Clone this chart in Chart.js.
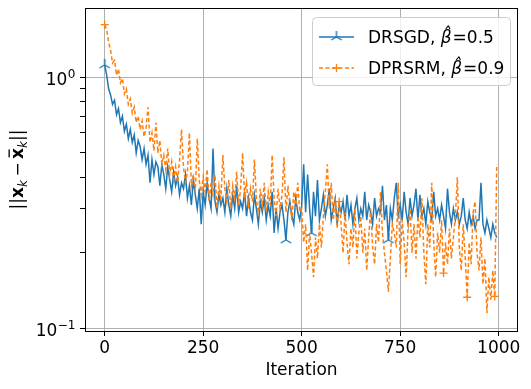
<!DOCTYPE html>
<html>
<head>
<meta charset="utf-8">
<script src="https://cdn.jsdelivr.net/npm/chart.js@4.4.0/dist/chart.umd.min.js"></script>
<style>
  html, body { margin: 0; padding: 0; background: #fff; }
  #wrap { width: 531px; height: 389px; }
</style>
</head>
<body>
<div id="wrap"><canvas id="chart" width="531" height="389"></canvas></div>
<script>
const STEP = 5;

const drsgd = [
    1.12, 1.02, 0.90, 0.85, 0.78, 0.81, 0.71, 0.75, 0.66, 0.70,
    0.61, 0.65, 0.57, 0.62, 0.55, 0.59, 0.50, 0.56, 0.53, 0.47,
    0.52, 0.45, 0.49, 0.38, 0.47, 0.41, 0.46, 0.44, 0.37, 0.45,
    0.41, 0.36, 0.44, 0.39, 0.35, 0.42, 0.37, 0.40, 0.34, 0.38,
    0.36, 0.41, 0.33, 0.37, 0.31, 0.39, 0.34, 0.30, 0.36, 0.26,
    0.35, 0.31, 0.38, 0.33, 0.30, 0.52, 0.32, 0.29, 0.34, 0.31,
    0.33, 0.29, 0.36, 0.31, 0.28, 0.34, 0.30, 0.37, 0.29, 0.32,
    0.30, 0.35, 0.28, 0.33, 0.29, 0.27, 0.34, 0.30, 0.26, 0.32,
    0.29, 0.33, 0.27, 0.31, 0.28, 0.35, 0.24, 0.30, 0.25, 0.29,
    0.31, 0.27, 0.225, 0.29, 0.32, 0.28, 0.26, 0.33, 0.29, 0.27,
    0.31, 0.45, 0.29, 0.41, 0.30, 0.24, 0.35, 0.28, 0.39, 0.27,
    0.30, 0.34, 0.28, 0.31, 0.36, 0.27, 0.30, 0.33, 0.26, 0.31,
    0.29, 0.32, 0.27, 0.34, 0.28, 0.31, 0.26, 0.30, 0.33, 0.27,
    0.30, 0.28, 0.35, 0.27, 0.31, 0.29, 0.26, 0.33, 0.28, 0.30,
    0.29, 0.37, 0.27, 0.31, 0.225, 0.30, 0.27, 0.33, 0.38, 0.28,
    0.31, 0.27, 0.35, 0.29, 0.26, 0.33, 0.28, 0.31, 0.36, 0.27,
    0.34, 0.28, 0.30, 0.26, 0.32, 0.29, 0.27, 0.35, 0.28, 0.30,
    0.27, 0.31, 0.28, 0.25, 0.36, 0.29, 0.26, 0.30, 0.27, 0.29,
    0.26, 0.28, 0.33, 0.27, 0.25, 0.29, 0.26, 0.28, 0.25, 0.27,
    0.27, 0.38, 0.26, 0.24, 0.27, 0.25, 0.23, 0.26, 0.24, 0.23
];

const dprsrm = [
    1.62, 1.55, 1.38, 1.28, 1.14, 1.17, 1.02, 1.08, 0.95, 0.99,
    0.86, 0.90, 0.78, 0.82, 0.72, 0.76, 0.66, 0.70, 0.62, 0.67,
    0.58, 0.63, 0.76, 0.55, 0.60, 0.51, 0.66, 0.50, 0.56, 0.45,
    0.49, 0.43, 0.52, 0.41, 0.46, 0.39, 0.44, 0.38, 0.47, 0.62,
    0.44, 0.38, 0.42, 0.60, 0.37, 0.41, 0.35, 0.57, 0.39, 0.34,
    0.40, 0.35, 0.43, 0.32, 0.38, 0.34, 0.41, 0.30, 0.37, 0.33,
    0.49, 0.36, 0.32, 0.39, 0.30, 0.37, 0.33, 0.42, 0.31, 0.36,
    0.50, 0.34, 0.38, 0.30, 0.36, 0.32, 0.47, 0.33, 0.28, 0.36,
    0.31, 0.38, 0.29, 0.35, 0.31, 0.49, 0.33, 0.28, 0.36, 0.30,
    0.34, 0.48, 0.29, 0.37, 0.31, 0.27, 0.35, 0.30, 0.38, 0.29,
    0.30, 0.22, 0.26, 0.17, 0.24, 0.20, 0.16, 0.23, 0.19, 0.26,
    0.21, 0.28, 0.35, 0.45, 0.30, 0.38, 0.27, 0.33, 0.25, 0.32,
    0.26, 0.20, 0.29, 0.22, 0.18, 0.25, 0.21, 0.30, 0.19, 0.24,
    0.28, 0.20, 0.25, 0.17, 0.23, 0.30, 0.21, 0.18, 0.26, 0.22,
    0.35, 0.24, 0.20, 0.17, 0.14, 0.19, 0.26, 0.24, 0.21, 0.38,
    0.18, 0.27, 0.22, 0.16, 0.25, 0.30, 0.20, 0.26, 0.19, 0.28,
    0.23, 0.33, 0.20, 0.15, 0.26, 0.21, 0.38, 0.22, 0.16, 0.24,
    0.20, 0.27, 0.166, 0.22, 0.18, 0.25, 0.19, 0.23, 0.28, 0.40,
    0.21, 0.17, 0.26, 0.19, 0.133, 0.22, 0.18, 0.29, 0.32, 0.20,
    0.17, 0.23, 0.15, 0.19, 0.115, 0.16, 0.13, 0.17, 0.134, 0.45
];

// Iterations where a marker is shown
const drsgdMarks = [0, 460, 525, 720];
const dprsrmMarks = [0, 595, 860, 920, 990];

const xTicks = [0, 250, 500, 750, 1000];
const yMajor = [0.1, 1];
const yMinor = [0.2, 0.3, 0.4, 0.5, 0.6, 0.7, 0.8, 0.9];

const BLUE = '#1f77b4';
const ORANGE = '#ff7f0e';
const FONT = 'DejaVu Sans';

// Tri-up marker ("2" in matplotlib) as a small canvas
function makeTri(color) {
    const c = document.createElement('canvas');
    c.width = 16; c.height = 16;
    const g = c.getContext('2d');
    g.strokeStyle = color;
    g.lineWidth = 1.4;
    const r = 6;
    g.beginPath();
    g.moveTo(8, 8); g.lineTo(8, 8 - r);
    g.moveTo(8, 8); g.lineTo(8 - r * 0.866, 8 + r * 0.5);
    g.moveTo(8, 8); g.lineTo(8 + r * 0.866, 8 + r * 0.5);
    g.stroke();
    return c;
}
const triBlue = makeTri(BLUE);

function toPoints(values) {
    return values.map((v, i) => ({ x: i * STEP, y: v }));
}

// Axes frame, y tick labels, y title, legend
const decorPlugin = {
    id: 'decor',
    afterDraw(chart) {
        const ctx = chart.ctx;
        const a = chart.chartArea;
        const ys = chart.scales.y;

        ctx.save();
        ctx.strokeStyle = '#000';
        ctx.lineWidth = 1;
        ctx.strokeRect(Math.round(a.left) + 0.5, Math.round(a.top) + 0.5,
            Math.round(a.right - a.left) - 1, Math.round(a.bottom - a.top));

        // y tick labels 10^0, 10^-1
        ctx.fillStyle = '#000';
        ctx.textBaseline = 'alphabetic';
        ctx.textAlign = 'left';
        [[1, '0'], [0.1, '\u22121']].forEach(([v, sup]) => {
            const py = ys.getPixelForValue(v);
            ctx.font = '17px ' + FONT;
            const wBase = ctx.measureText('10').width;
            ctx.font = '12px ' + FONT;
            const wSup = ctx.measureText(sup).width;
            const right = a.left - 10;
            const x0 = right - wBase - wSup;
            ctx.font = '17px ' + FONT;
            ctx.fillText('10', x0, py + 7.5);
            ctx.font = '12px ' + FONT;
            ctx.fillText(sup, x0 + wBase + 0.5, py + 0.5);
        });

        // y axis title ||x_k - x̄_k||
        const parts = [
            { t: '||', f: '17px ' + FONT, dy: 0 },
            { t: 'x', f: 'bold 17px ' + FONT, dy: 0 },
            { t: 'k', f: 'italic 12px ' + FONT, dy: 4 },
            { t: '\u2212', f: '17px ' + FONT, dy: 0, padL: 3.5, padR: 3.5 },
            { t: 'x', f: 'bold 17px ' + FONT, dy: 0, bar: true },
            { t: 'k', f: 'italic 12px ' + FONT, dy: 4 },
            { t: '||', f: '17px ' + FONT, dy: 0 }
        ];
        let total = 0;
        parts.forEach(p => {
            ctx.font = p.f;
            p.w = ctx.measureText(p.t).width;
            total += p.w + (p.padL || 0) + (p.padR || 0);
        });
        ctx.translate(23, (a.top + a.bottom) / 2);
        ctx.rotate(-Math.PI / 2);
        let cx = -total / 2;
        parts.forEach(p => {
            cx += p.padL || 0;
            ctx.font = p.f;
            ctx.fillText(p.t, cx, p.dy);
            if (p.bar) {
                ctx.fillRect(cx + 1.5, -14.5, p.w - 3, 1.3);
            }
            cx += p.w + (p.padR || 0);
        });
        ctx.restore();

        // legend
        ctx.save();
        const lx = 312.5, ly = 17.5, lw = 198, lh = 68, rr = 4;
        ctx.beginPath();
        ctx.moveTo(lx + rr, ly);
        ctx.arcTo(lx + lw, ly, lx + lw, ly + lh, rr);
        ctx.arcTo(lx + lw, ly + lh, lx, ly + lh, rr);
        ctx.arcTo(lx, ly + lh, lx, ly, rr);
        ctx.arcTo(lx, ly, lx + lw, ly, rr);
        ctx.closePath();
        ctx.fillStyle = 'rgba(255,255,255,0.8)';
        ctx.fill();
        ctx.strokeStyle = '#cccccc';
        ctx.lineWidth = 1;
        ctx.stroke();

        const entries = [
            { name: 'DRSGD, ', val: '=0.5', color: BLUE, dash: [], y: 37 },
            { name: 'DPRSRM, ', val: '=0.9', color: ORANGE, dash: [4, 2.5], y: 68 }
        ];
        entries.forEach((e, k) => {
            ctx.strokeStyle = e.color;
            ctx.lineWidth = 1.5;
            ctx.setLineDash(e.dash);
            ctx.beginPath();
            ctx.moveTo(319, e.y);
            ctx.lineTo(354, e.y);
            ctx.stroke();
            ctx.setLineDash([]);
            if (k === 0) {
                ctx.drawImage(triBlue, 336.5 - 8, e.y - 8);
            } else {
                ctx.lineWidth = 1.3;
                ctx.beginPath();
                ctx.moveTo(332.5, e.y); ctx.lineTo(340.5, e.y);
                ctx.moveTo(336.5, e.y - 4); ctx.lineTo(336.5, e.y + 4);
                ctx.stroke();
            }
            ctx.fillStyle = '#000';
            let tx = 368;
            ctx.font = '17px ' + FONT;
            ctx.fillText(e.name, tx, e.y + 6);
            tx += ctx.measureText(e.name).width;
            ctx.font = 'italic 17px ' + FONT;
            ctx.fillText('\u03b2\u0302', tx, e.y + 6);
            tx += ctx.measureText('\u03b2').width + 1;
            ctx.font = '17px ' + FONT;
            ctx.fillText(e.val, tx, e.y + 6);
        });
        ctx.restore();
    }
};

const chart = new Chart(document.getElementById('chart'), {
    type: 'line',
    data: {
        datasets: [
            {
                label: 'DRSGD',
                data: toPoints(drsgd),
                borderColor: BLUE,
                borderWidth: 1.5,
                order: 1,
                pointRadius: c => drsgdMarks.includes(c.raw && c.raw.x) ? 6 : 0,
                pointStyle: c => drsgdMarks.includes(c.raw && c.raw.x) ? triBlue : false,
                pointHoverRadius: 0
            },
            {
                label: 'DPRSRM',
                data: toPoints(dprsrm),
                borderColor: ORANGE,
                borderWidth: 1.5,
                borderDash: [4, 2.5],
                order: 0,
                pointStyle: 'cross',
                pointRadius: c => dprsrmMarks.includes(c.raw && c.raw.x) ? 4 : 0,
                pointBorderColor: ORANGE,
                pointBorderWidth: 1.3,
                pointHoverRadius: 0
            }
        ]
    },
    options: {
        responsive: false,
        animation: false,
        devicePixelRatio: 1,
        layout: { padding: { left: 0, top: 8, right: 13, bottom: 0 } },
        plugins: {
            legend: { display: false },
            tooltip: { enabled: false }
        },
        elements: { line: { tension: 0 } },
        scales: {
            x: {
                type: 'linear',
                min: -49.95,
                max: 1048.95,
                afterBuildTicks: s => { s.ticks = xTicks.map(v => ({ value: v })); },
                afterFit: s => { s.height = 58; },
                ticks: {
                    color: '#000',
                    font: { family: FONT, size: 17 },
                    padding: 2,
                    maxRotation: 0,
                    autoSkip: false,
                    callback: v => String(v)
                },
                grid: { color: '#b0b0b0', lineWidth: 1, tickColor: '#000', tickLength: 5 },
                border: { display: false },
                title: {
                    display: true,
                    text: 'Iteration',
                    color: '#000',
                    font: { family: FONT, size: 17 },
                    padding: { top: 0, bottom: 8 }
                }
            },
            y: {
                type: 'logarithmic',
                min: 0.0976,
                max: 1.888,
                afterBuildTicks: s => {
                    s.ticks = [...yMinor, ...yMajor].sort((p, q) => p - q).map(v => ({ value: v }));
                },
                afterFit: s => { s.width = 85; },
                ticks: { display: false },
                grid: {
                    color: c => (c.tick && yMajor.includes(c.tick.value)) ? '#b0b0b0' : 'rgba(0,0,0,0)',
                    lineWidth: 1,
                    tickColor: '#000',
                    tickLength: 5
                },
                border: { display: false }
            }
        }
    },
    plugins: [decorPlugin]
});
</script>
</body>
</html>
